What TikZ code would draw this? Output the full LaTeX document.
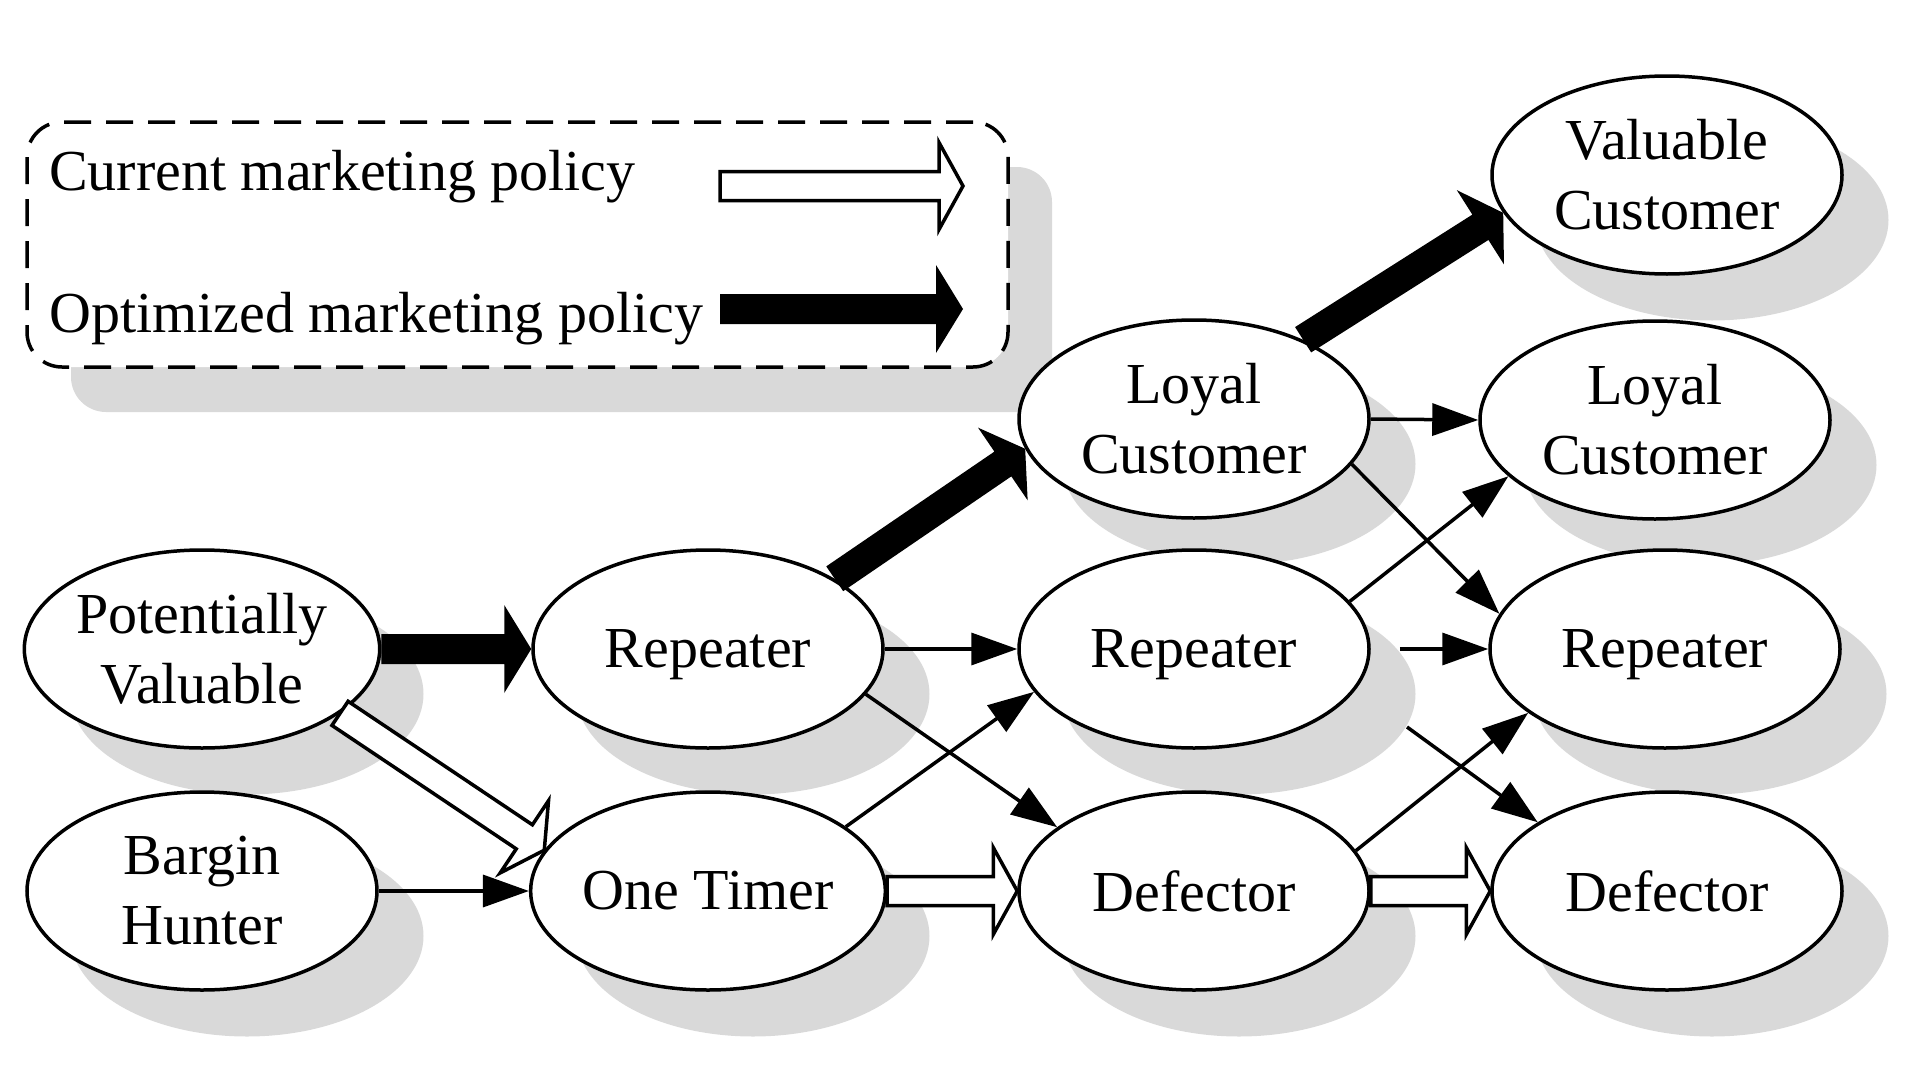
\documentclass[tikz,border=0pt]{standalone}
\usepackage{fontspec}
\setmainfont{Liberation Serif}
\usetikzlibrary{arrows.meta,calc,shapes.geometric}
\definecolor{shadowgray}{RGB}{217,217,217}

% hollow fat arrow from #1 to tip #2
\newcommand{\myhollow}[2]{%
  \coordinate (hbase) at ($(#2)!24pt!(#1)$);
  \draw[hollowarr]
    ($(#1)!14.5pt!90:(#2)$) --
    ($(hbase)!14.5pt!-90:(#1)$) --
    ($(hbase)!43.5pt!-90:(#1)$) --
    (#2) --
    ($(hbase)!43.5pt!90:(#1)$) --
    ($(hbase)!14.5pt!90:(#1)$) --
    ($(#1)!14.5pt!-90:(#2)$) -- cycle;
}
% filled fat arrow from #1 to tip #2
\newcommand{\myfat}[2]{%
  \coordinate (fbase) at ($(#2)!27pt!(#1)$);
  \fill[black]
    ($(#1)!15pt!90:(#2)$) --
    ($(fbase)!15pt!-90:(#1)$) --
    ($(fbase)!44pt!-90:(#1)$) --
    (#2) --
    ($(fbase)!44pt!90:(#1)$) --
    ($(fbase)!15pt!90:(#1)$) --
    ($(#1)!15pt!-90:(#2)$) -- cycle;
}

\begin{document}
\begin{tikzpicture}[x=1pt,y=-1pt,
  stnode/.style={ellipse, draw=black, line width=3.5pt, fill=white,
    minimum width=350pt, minimum height=198pt, inner sep=0pt, align=center,
    font=\fontsize{58}{70}\selectfont},
  nodepth/.style={text depth=0pt},
  shad/.style={ellipse, fill=shadowgray, draw=none,
    minimum width=353pt, minimum height=201pt, inner sep=0pt},
  thinarr/.style={line width=3.5pt, -{Triangle[length=46pt,width=32pt]}},
  hollowarr/.style={line width=3.5pt, draw=black, fill=white, line join=miter, miter limit=10},
  legendbox/.style={draw=black, fill=white, line width=3.5pt, dash pattern=on 27pt off 15pt,
    rounded corners=35pt, minimum width=981pt, minimum height=245pt, inner sep=0pt},
  legendshad/.style={fill=shadowgray, draw=none, rounded corners=35pt,
    minimum width=981pt, minimum height=245pt, inner sep=0pt},
  lgtext/.style={font=\fontsize{58}{70}\selectfont, inner sep=0pt, anchor=base west},
]
\useasboundingbox (0,0) rectangle (1920,1068);

% centres
\coordinate (cpv) at (202,649);
\coordinate (cbh) at (202,891);
\coordinate (crep2) at (708,649);
\coordinate (cot) at (708,891);
\coordinate (clc3) at (1194,419);
\coordinate (crep3) at (1194,649);
\coordinate (cdef3) at (1194,891);
\coordinate (cvc4) at (1667,175);
\coordinate (clc4) at (1655,420);
\coordinate (crep4) at (1665,649);
\coordinate (cdef4) at (1667,891);

% shadows
\node[legendshad] (legshad) at (561.5,289.5) {};
\foreach \c in {cpv,cbh,crep2,cot,clc3,crep3,cdef3,cvc4,clc4,crep4,cdef4}
  \node[shad] at ([shift={(45,45)}]\c) {};

% legend
\node[legendbox] (legend) at (517.5,244.5) {};
\node[lgtext] (curtext) at (49,190) {Current marketing policy};
\node[lgtext] (opttext) at (49,332) {Optimized marketing policy};
\coordinate (cura) at (720,186);
\coordinate (curb) at (963,186);
\coordinate (opta) at (720,309);
\coordinate (optb) at (963,309);
\myhollow{cura}{curb}
\myfat{opta}{optb}

% nodes
\node[stnode] (pv) at (cpv) {Potentially\\Valuable};
\node[stnode] (bh) at (cbh) {Bargin\\Hunter};
\node[stnode,nodepth] (rep2) at (crep2) {Repeater};
\node[stnode] (ot) at (cot) {One Timer};
\node[stnode] (lc3) at (clc3) {Loyal\\Customer};
\node[stnode,nodepth] (rep3) at (crep3) {Repeater};
\node[stnode] (def3) at (cdef3) {Defector};
\node[stnode] (vc4) at (cvc4) {Valuable\\Customer};
\node[stnode] (lc4) at (clc4) {Loyal\\Customer};
\node[stnode,nodepth] (rep4) at (crep4) {Repeater};
\node[stnode] (def4) at (cdef4) {Defector};

% thin arrows
\draw[thinarr] (bh.east) -- (ot.west);
\draw[thinarr] (rep2.east) -- (rep3.west);
\draw[thinarr] (rep2.-16) -- (def3.155);
\draw[thinarr] (ot.25) -- (rep3.195);
\draw[thinarr] (lc3.east) -- (lc4.west);
\draw[thinarr] (lc3.-16) -- (rep4.168);
\draw[thinarr] (rep3.17) -- (lc4.201);
\draw[thinarr] ([xshift=29pt]rep3.east) -- (rep4.west);
\draw[thinarr] ($(rep3.center)+(213,78)$) -- (def4.152);
\draw[thinarr] (def3.14) -- (rep4.205);

% fat arrows
\myfat{pv.east}{rep2.west}
\myfat{rep2.29}{lc3.190}
\myfat{lc3.36}{vc4.193}
\myhollow{pv.-25}{ot.166}
\myhollow{ot.east}{def3.west}
\myhollow{def3.east}{def4.west}
\end{tikzpicture}
\end{document}
